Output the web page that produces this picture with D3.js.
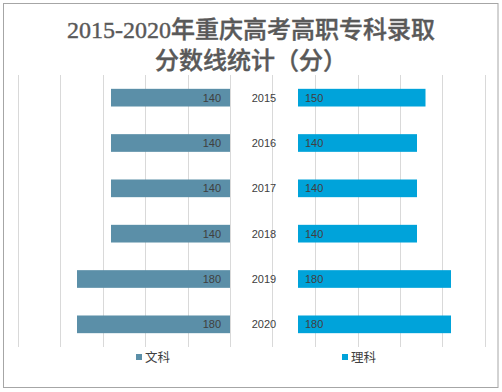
<!DOCTYPE html>
<html><head><meta charset="utf-8">
<script src="https://cdn.jsdelivr.net/npm/d3@7"></script>
<style>html,body{margin:0;padding:0;background:#fff}</style>
</head><body>
<script>
const years = ["2015","2016","2017","2018","2019","2020"];
const wenke = [140,140,140,140,180,180];
const like = [150,140,140,140,180,180];
const seriesNames = ["文科","理科"];
const seriesColors = ["#5B8FA8","#00A3DA"];
const gridTicks = d3.range(-250, 301, 50);
const titleLines = ["2015-2020年重庆高考高职专科录取","分数线统计（分）"];
const rightOffset = 80;

const W = 502, H = 392;
const svg = d3.select("body").append("svg").attr("width", W).attr("height", H);

svg.append("rect").attr("x",3.5).attr("y",3.5).attr("width",494.5).attr("height",384)
  .attr("fill","#fff").attr("stroke","#a6a6a6").attr("stroke-width",1);

svg.selectAll("text.title").data(titleLines).join("text")
  .attr("x", 251).attr("y",(d,i)=>38+i*31)
  .attr("text-anchor","middle")
  .attr("font-family","'Liberation Serif','Noto Sans CJK SC',serif")
  .attr("font-size",24).attr("font-weight",500).attr("fill","#595959")
  .attr("stroke","#595959").attr("stroke-width",0.4)
  .text(d=>d);

const x = d3.scaleLinear().domain([-250,300]).range([17.5,485]);
const y = d3.scaleBand().domain(years).range([75,347]).paddingInner(0.61).paddingOuter(0.305);

svg.append("g").selectAll("line").data(gridTicks).join("line")
  .attr("x1",d=>Math.round(x(d))+0.5).attr("x2",d=>Math.round(x(d))+0.5)
  .attr("y1",75).attr("y2",347)
  .attr("stroke","#d9d9d9").attr("stroke-width",1);

svg.append("g").selectAll("rect").data(years).join("rect")
  .attr("x",(d,i)=>x(-wenke[i])).attr("width",(d,i)=>x(0)-x(-wenke[i]))
  .attr("y",d=>y(d)).attr("height",y.bandwidth())
  .attr("fill",seriesColors[0]);

svg.append("g").selectAll("rect").data(years).join("rect")
  .attr("x",x(rightOffset)).attr("width",(d,i)=>x(rightOffset+like[i])-x(rightOffset))
  .attr("y",d=>y(d)).attr("height",y.bandwidth())
  .attr("fill",seriesColors[1]);

const lblFont = "'Liberation Sans','DejaVu Sans',sans-serif";
svg.append("g").selectAll("text").data(years).join("text")
  .attr("x",x(0)-9).attr("y",d=>y(d)+y.bandwidth()/2+4)
  .attr("text-anchor","end").attr("font-family",lblFont).attr("font-size",11).attr("fill","#404040")
  .text((d,i)=>wenke[i]);
svg.append("g").selectAll("text").data(years).join("text")
  .attr("x",x(rightOffset)+7).attr("y",d=>y(d)+y.bandwidth()/2+4)
  .attr("text-anchor","start").attr("font-family",lblFont).attr("font-size",11).attr("fill","#404040")
  .text((d,i)=>like[i]);
svg.append("g").selectAll("text").data(years).join("text")
  .attr("x",(x(0)+x(rightOffset))/2).attr("y",d=>y(d)+y.bandwidth()/2+4)
  .attr("text-anchor","middle").attr("font-family",lblFont).attr("font-size",11).attr("fill","#404040")
  .text(d=>d);

const legX = [136, 342];
const leg = svg.append("g").selectAll("g").data(seriesNames).join("g")
  .attr("transform",(d,i)=>`translate(${legX[i]},357)`);
leg.append("rect").attr("x",0).attr("y",-3).attr("width",6).attr("height",6).attr("fill",(d,i)=>seriesColors[i]);
leg.append("text").attr("x",9).attr("y",4.5).attr("font-family","'Noto Sans CJK SC',sans-serif")
  .attr("font-size",12.5).attr("fill","#404040").text(d=>d);
</script>
</body></html>
